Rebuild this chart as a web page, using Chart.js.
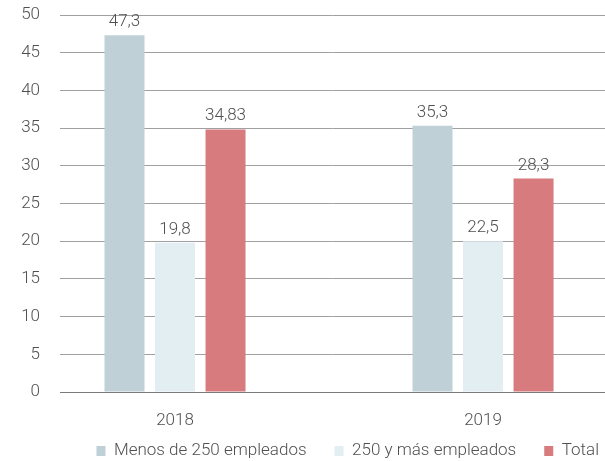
<!DOCTYPE html>
<html>
<head>
<meta charset="utf-8">
<script src="https://cdn.jsdelivr.net/npm/chart.js@4/dist/chart.umd.min.js"></script>
<style>
  html, body { margin: 0; padding: 0; background: #fff; }
  #wrap { width: 605px; height: 461px; }
</style>
</head>
<body>
<div id="wrap"><canvas id="chart" width="605" height="461"></canvas></div>
<script>
// años (eje x)
const years = ['2018', '2019'];
const seriesNames = ['Menos de 250 empleados', '250 y más empleados', 'Total'];

// alturas de las barras
const menos250 = [47.3, 35.3];
const mas250 = [19.8, 20];
const total = [34.83, 28.3];

// etiquetas impresas encima de cada barra
const menos250Labels = ['47,3', '35,3'];
const mas250Labels = ['19,8', '22,5'];
const totalLabels = ['34,83', '28,3'];

const yTicks = [0, 5, 10, 15, 20, 25, 30, 35, 40, 45, 50];

const colors = ['#bfd0d7', '#e3eef3', '#d77b7f'];
const FONT = 'Roboto';
const FSIZE = 17;
const TEXT = '#505050';

function toPoints(values) {
  return values.map((v, i) => ({ x: i + 1, y: v }));
}

// 📌 etiquetas de valor encima de las barras
const valueLabels = {
  id: 'valueLabels',
  afterDatasetsDraw(chart) {
    const ctx = chart.ctx;
    const allLabels = [menos250Labels, mas250Labels, totalLabels];
    ctx.save();
    ctx.font = '300 ' + FSIZE + 'px ' + FONT;
    ctx.fillStyle = TEXT;
    ctx.textAlign = 'center';
    ctx.textBaseline = 'alphabetic';
    chart.data.datasets.forEach((ds, di) => {
      const meta = chart.getDatasetMeta(di);
      meta.data.forEach((bar, i) => {
        ctx.fillText(allLabels[di][i], bar.x, bar.y - 9);
      });
    });
    ctx.restore();
  }
};

// colocar la leyenda como en el original
const legendShift = {
  id: 'legendShift',
  afterLayout(chart) {
    if (chart.legend) {
      chart.legend.right = 627;
      chart.legend.top = 414.5;
    }
  }
};

new Chart(document.getElementById('chart'), {
  type: 'bar',
  data: {
    datasets: [
      { label: seriesNames[0], data: toPoints(menos250), backgroundColor: colors[0] },
      { label: seriesNames[1], data: toPoints(mas250), backgroundColor: colors[1] },
      { label: seriesNames[2], data: toPoints(total), backgroundColor: colors[2] }
    ]
  },
  options: {
    responsive: false,
    animation: false,
    categoryPercentage: 0.492,
    barPercentage: 0.792,
    layout: { padding: { top: 15, left: 0, right: 0, bottom: 0 } },
    scales: {
      x: {
        type: 'linear',
        offset: false,
        min: 0.6266,
        max: 2.396,
        z: 1,
        afterBuildTicks: (scale) => { scale.ticks = years.map((y, i) => ({ value: i + 1 })); },
        afterFit: (scale) => { scale.height = 40; },
        grid: { display: false, offset: false },
        border: { display: true, color: '#7a7a7a', width: 1 },
        ticks: {
          padding: 11,
          color: TEXT,
          font: { family: FONT, size: FSIZE, weight: 300 },
          callback: (v) => years[v - 1] || ''
        }
      },
      y: {
        min: 0,
        max: 50,
        afterBuildTicks: (scale) => { scale.ticks = yTicks.map(v => ({ value: v })); },
        afterFit: (scale) => { scale.width = 60; },
        border: { display: false },
        grid: {
          color: '#a0a0a0',
          lineWidth: 1,
          drawTicks: true,
          tickLength: 20,
          tickColor: 'rgba(0,0,0,0)'
        },
        ticks: {
          padding: 0,
          color: TEXT,
          font: { family: FONT, size: FSIZE, weight: 300 }
        }
      }
    },
    plugins: {
      legend: {
        position: 'bottom',
        align: 'end',
        maxHeight: 29,
        labels: {
          boxWidth: 9,
          boxHeight: 10,
          padding: 28,
          color: TEXT,
          font: { family: FONT, size: FSIZE, weight: 300 }
        }
      },
      tooltip: { enabled: false }
    }
  },
  plugins: [valueLabels, legendShift]
});
</script>
</body>
</html>
